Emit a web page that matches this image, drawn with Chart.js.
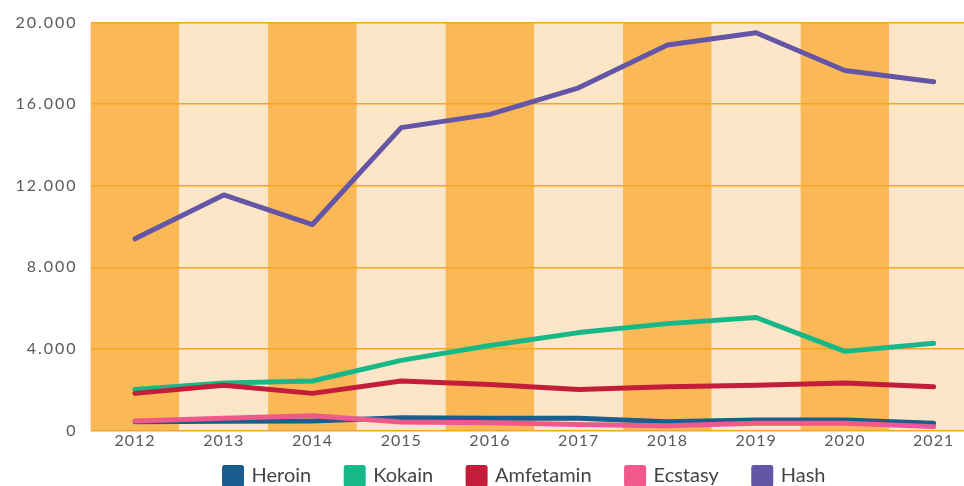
<!DOCTYPE html>
<html>
<head>
<meta charset="utf-8">
<script src="https://cdn.jsdelivr.net/npm/chart.js@4"></script>
<style>
  html, body { margin: 0; padding: 0; background: #ffffff; overflow: hidden; }
  #wrap { width: 1050px; height: 486px; position: relative; }
</style>
</head>
<body>
<div id="wrap"><canvas id="c"></canvas></div>
<script>
const years = ['2012', '2013', '2014', '2015', '2016', '2017', '2018', '2019', '2020', '2021'];
const heroin = [430, 450, 460, 620, 600, 600, 430, 510, 510, 350];
const kokain = [2010, 2330, 2430, 3440, 4170, 4800, 5240, 5540, 3880, 4280];
const amfetamin = [1820, 2220, 1820, 2430, 2250, 2010, 2140, 2220, 2330, 2140];
const ecstasy = [470, 600, 720, 420, 380, 300, 230, 350, 350, 190];
const hash = [9400, 11550, 10100, 14850, 15500, 16800, 18900, 19500, 17650, 17100];
const yTicks = [0, 4000, 8000, 12000, 16000, 20000];

const bandColors = ['#fab857', '#fde6c8'];
const gridColor = '#f8a51f';
const textColor = '#5a5a5a';
const fontFamily = 'Lato, "Open Sans", sans-serif';

const bandsPlugin = {
  id: 'bands',
  beforeDraw(chart) {
    const {ctx, chartArea, scales} = chart;
    const x = scales.x;
    const n = years.length;
    const w = (x.getPixelForValue(1) - x.getPixelForValue(0));
    ctx.save();
    for (let i = 0; i < n; i++) {
      const c = x.getPixelForValue(i);
      ctx.fillStyle = bandColors[i % 2];
      ctx.fillRect(c - w / 2, chartArea.top, w, chartArea.bottom - chartArea.top);
    }
    ctx.restore();
  }
};

const tweakPlugin = {
  id: 'tweaks',
  afterInit(chart) {
    const lg = chart.legend;
    if (lg && !lg._shifted) {
      const origDraw = lg.draw.bind(lg);
      lg.draw = function () {
        const ctx = this.ctx;
        ctx.save();
        ctx.translate(0, -21.5);
        origDraw();
        ctx.restore();
      };
      lg._shifted = true;
    }
  },
  afterLayout(chart) {
    const spacing = { x: '1px', y: '2px' };
    Object.keys(spacing).forEach(id => {
      const s = chart.scales[id];
      if (!s || s._wrappedLabels) return;
      const orig = s.drawLabels.bind(s);
      s.drawLabels = function (area) {
        const ctx = this.ctx;
        const prev = ctx.letterSpacing;
        ctx.letterSpacing = spacing[id];
        orig(area);
        ctx.letterSpacing = prev || '0px';
      };
      s._wrappedLabels = true;
    });
  }
};

function fmt(v) {
  return String(v).replace(/\B(?=(\d{3})+(?!\d))/g, '.');
}

const common = {
  fill: false,
  pointRadius: 0,
  pointHoverRadius: 0,
  borderWidth: 5,
  borderCapStyle: 'round',
  borderJoinStyle: 'round',
  tension: 0
};

new Chart(document.getElementById('c'), {
  type: 'line',
  data: {
    labels: years,
    datasets: [
      Object.assign({label: 'Heroin', data: heroin, borderColor: '#1a5d8f', backgroundColor: '#1a5d8f', order: 5}, common),
      Object.assign({label: 'Kokain', data: kokain, borderColor: '#16b888', backgroundColor: '#16b888', order: 4}, common),
      Object.assign({label: 'Amfetamin', data: amfetamin, borderColor: '#c41d3a', backgroundColor: '#c41d3a', order: 3}, common),
      Object.assign({label: 'Ecstasy', data: ecstasy, borderColor: '#f0598a', backgroundColor: '#f0598a', order: 2}, common),
      Object.assign({label: 'Hash', data: hash, borderColor: '#6555a6', backgroundColor: '#6555a6', order: 1}, common)
    ]
  },
  options: {
    responsive: true,
    maintainAspectRatio: false,
    animation: false,
    events: [],
    layout: { padding: { top: 15.5, right: 0, left: 0, bottom: -31.5 } },
    plugins: {
      legend: {
        position: 'bottom',
        labels: {
          boxWidth: 17,
          boxHeight: 17,
          padding: 35,
          color: '#444444',
          font: { family: fontFamily, size: 20 },
          sort: (a, b) => a.datasetIndex - b.datasetIndex
        }
      },
      tooltip: { enabled: false }
    },
    scales: {
      x: {
        offset: true,
        grid: { display: false, drawTicks: false },
        border: { display: false },
        ticks: { color: textColor, padding: 1, font: { family: fontFamily, size: 16 }, maxRotation: 0 },
        afterFit(axis) { axis.height = 22; }
      },
      y: {
        min: 0,
        max: 20000,
        afterBuildTicks(axis) { axis.ticks = yTicks.map(v => ({value: v})); },
        grid: { color: gridColor, lineWidth: 1.5, drawTicks: false },
        border: { display: false },
        ticks: { color: textColor, padding: 13, font: { family: fontFamily, size: 16 }, callback: (v) => fmt(v) },
        afterFit(axis) { axis.width = 90.6; }
      },
      yPad: {
        position: 'right',
        display: true,
        grid: { display: false, drawTicks: false },
        border: { display: false },
        ticks: { display: false },
        afterFit(axis) { axis.width = 72; }
      }
    }
  },
  plugins: [bandsPlugin, tweakPlugin]
});
</script>
</body>
</html>
